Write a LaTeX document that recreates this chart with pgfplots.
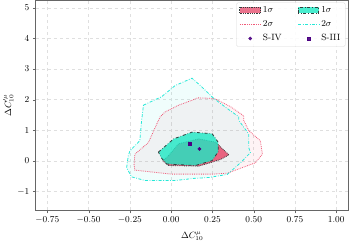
\documentclass[border=0pt]{standalone}
\usepackage{pgfplots}
\pgfplotsset{compat=1.18}
\definecolor{redc}{RGB}{232,100,128}
\definecolor{cyanc}{RGB}{28,233,196}
\definecolor{cyanl}{RGB}{40,232,215}
\definecolor{redl}{RGB}{240,90,120}
\definecolor{indig}{RGB}{75,0,130}
\definecolor{edge}{RGB}{50,60,60}
\pgfplotsset{
  rectleg/.style={legend image code/.code={\draw[##1, sharp corners] (0cm,-0.09cm) rectangle (0.72cm,0.11cm);}},
  lineleg/.style={legend image code/.code={\draw[##1, sharp corners] (0cm,0cm) -- (0.72cm,0cm);}},
  markleg/.style={legend image code/.code={\draw[##1] plot coordinates {(0.36cm,0cm)};}},
}
\begin{document}
\begin{tikzpicture}
\begin{axis}[
  scale only axis,
  width=310pt, height=208pt,
  xmin=-0.82, xmax=1.075, ymin=-1.61, ymax=5.24,
  xtick={-0.75,-0.5,-0.25,0,0.25,0.5,0.75,1.0},
  xticklabels={$-0.75$,$-0.50$,$-0.25$,$0.00$,$0.25$,$0.50$,$0.75$,$1.00$},
  ytick={-1,0,1,2,3,4,5},
  tick align=outside, tick pos=left,
  major tick length=3pt,
  grid=major,
  grid style={dashed, gray!25, line width=0.5pt},
  axis line style={gray!80!black, line width=0.8pt},
  tick style={gray!80!black},
  tick label style={font=\small},
  label style={font=\small},
  xlabel={$\Delta C_{10}^{\mu}$},
  ylabel={$\Delta C_{10}^{\prime\mu}$},
  xlabel style={yshift=-1pt},
  ylabel style={yshift=-3pt},
  legend columns=2,
  legend cell align=left,
  legend style={font=\small, draw=gray!30, rounded corners=1.5pt, fill=white, fill opacity=0.9, text opacity=1,
    /tikz/every even column/.append style={column sep=14pt}, row sep=2.5pt, at={(0.99,0.99)}, anchor=north east,
    inner xsep=3pt},
]
% 2 sigma fills
\addplot[forget plot, fill=cyanl, fill opacity=0.07, draw=none] coordinates {
(-0.168,1.82) (-0.057,2.1) (0.024,2.46) (0.126,2.70) (0.177,2.46) (0.258,2.04) (0.34,1.71) (0.41,1.44) (0.41,1.32) (0.47,0.88) (0.47,0.44) (0.48,0.27) (0.42,-0.06) (0.34,-0.44) (0.23,-0.54) (0.137,-0.57) (0.024,-0.64) (-0.158,-0.64) (-0.24,-0.52) (-0.27,-0.22) (-0.26,0.17) (-0.25,0.33) (-0.19,0.66) (-0.18,1.27) (-0.168,1.82)};
\addplot[forget plot, fill=redl, fill opacity=0.07, draw=none] coordinates {
(-0.087,1.21) (-0.067,1.44) (-0.037,1.6) (0.045,1.82) (0.126,1.98) (0.16,2.06) (0.26,2.04) (0.36,1.77) (0.44,1.47) (0.44,1.32) (0.47,0.99) (0.54,0.66) (0.553,0.22) (0.51,-0.06) (0.43,-0.22) (0.34,-0.40) (0.25,-0.43) (0.0,-0.43) (-0.22,-0.30) (-0.225,-0.11) (-0.22,0.22) (-0.138,0.6) (-0.087,1.21)};
% 1 sigma red
\addplot[fill=redc, draw=edge, densely dotted, line width=0.8pt, rectleg] coordinates {
(-0.016,0.17) (0.045,0.56) (0.167,0.72) (0.27,0.61) (0.30,0.45) (0.35,0.20) (0.30,0.05) (0.248,-0.04) (0.167,-0.17) (-0.016,-0.15) (-0.05,0.0) (-0.016,0.17)};
\addlegendentry{$1\sigma$}
% 1 sigma cyan
\addplot[fill=cyanc, fill opacity=0.8, draw=edge, dash dot, line width=0.8pt, rectleg] coordinates {
(-0.077,0.29) (0.015,0.72) (0.126,0.94) (0.248,0.89) (0.285,0.61) (0.285,0.30) (0.248,0.01) (0.146,-0.15) (-0.026,-0.10) (-0.06,0.10) (-0.077,0.29)};
\addlegendentry{$1\sigma$}
% 2 sigma lines
\addplot[redl, densely dotted, line width=0.8pt, lineleg] coordinates {
(-0.087,1.21) (-0.067,1.44) (-0.037,1.6) (0.045,1.82) (0.126,1.98) (0.16,2.06) (0.26,2.04) (0.36,1.77) (0.44,1.47) (0.44,1.32) (0.47,0.99) (0.54,0.66) (0.553,0.22) (0.51,-0.06) (0.43,-0.22) (0.34,-0.40) (0.25,-0.43) (0.0,-0.43) (-0.22,-0.30) (-0.225,-0.11) (-0.22,0.22) (-0.138,0.6) (-0.087,1.21)};
\addlegendentry{$2\sigma$}
\addplot[cyanl, dash pattern=on 3pt off 1.5pt on 0.8pt off 1.5pt, line width=0.8pt, lineleg] coordinates {
(-0.168,1.82) (-0.057,2.1) (0.024,2.46) (0.126,2.70) (0.177,2.46) (0.258,2.04) (0.34,1.71) (0.41,1.44) (0.41,1.32) (0.47,0.88) (0.47,0.44) (0.48,0.27) (0.42,-0.06) (0.34,-0.44) (0.23,-0.54) (0.137,-0.57) (0.024,-0.64) (-0.158,-0.64) (-0.24,-0.52) (-0.27,-0.22) (-0.26,0.17) (-0.25,0.33) (-0.19,0.66) (-0.18,1.27) (-0.168,1.82)};
\addlegendentry{$2\sigma$}
% points
\addplot[only marks, mark=*, mark size=1.6pt, indig, markleg] coordinates {(0.171,0.39)};
\addlegendentry{S-IV}
\addplot[only marks, mark=square*, mark size=1.5pt, indig, markleg] coordinates {(0.112,0.56)};
\addlegendentry{S-III}
\end{axis}
\end{tikzpicture}
\end{document}
